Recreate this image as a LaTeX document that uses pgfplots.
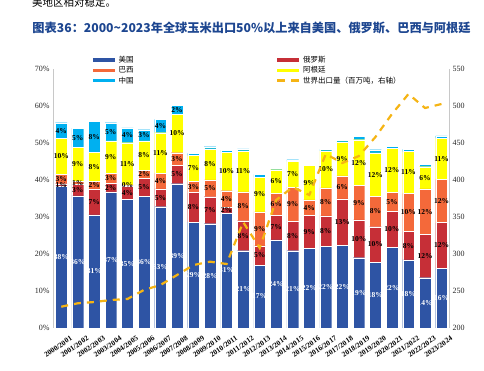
\documentclass[border=0pt]{standalone}
\usepackage{pgfplots}
\pgfplotsset{compat=1.18}
\usepackage{pgfplotstable}
\usepackage{fontspec}
\setmainfont{Liberation Serif}
\newfontfamily\cjk{Noto Sans CJK SC}
\definecolor{usblue}{HTML}{2E54A4}
\definecolor{rured}{HTML}{C62F37}
\definecolor{brorange}{HTML}{F4693A}
\definecolor{aryellow}{HTML}{FFFF00}
\definecolor{cncyan}{HTML}{00B0F0}
\definecolor{wline}{HTML}{F5B414}
\definecolor{titleblue}{HTML}{1D4690}
\definecolor{axgray}{HTML}{C8C8C8}

\pgfplotstableread{
i us ru br ar cn
0 38.4 0.6 2.6 9.6 4.3
1 35.7 3.1 0.8 9.2 5.2
2 30.6 7.0 2.1 7.8 8.3
3 36.8 2.3 2.7 8.8 4.9
4 34.8 3.6 0.3 11.4 4.0
5 35.6 4.8 2.3 7.9 3.0
6 32.8 4.8 4.2 11.0 3.6
7 39.0 5.0 3.4 10.4 2.4
8 28.6 8.0 3.0 7.0 0.6
9 28.2 7.3 4.5 8.4 0.6
10 31.1 1.6 4.4 10.4 0.6
11 20.9 8.1 7.8 11.1 0.5
12 17.0 5.2 9.2 9.4 0.7
13 23.8 6.7 5.9 6.4 0.4
14 20.9 8.0 9.2 6.9 0.5
15 21.6 8.9 4.1 9.3 0.4
16 22.0 8.3 7.6 10.0 0.4
17 22.3 12.6 6.2 9.2 0.5
18 19.0 10.2 9.3 12.4 0.9
19 17.8 9.6 8.2 11.7 0.9
20 21.8 9.8 5.0 12.0 0.5
21 18.4 7.7 10.3 11.3 0.6
22 13.6 11.7 12.3 6.0 0.7
23 16.1 12.4 11.7 11.1 0.6
}\shares
\pgfplotstablecreatecol[create col/expr={\thisrow{us}/2}]{cus}{\shares}
\pgfplotstablecreatecol[create col/expr={\thisrow{us}+\thisrow{ru}/2}]{cru}{\shares}
\pgfplotstablecreatecol[create col/expr={\thisrow{us}+\thisrow{ru}+\thisrow{br}/2}]{cbr}{\shares}
\pgfplotstablecreatecol[create col/expr={\thisrow{us}+\thisrow{ru}+\thisrow{br}+\thisrow{ar}/2}]{car}{\shares}
\pgfplotstablecreatecol[create col/expr={\thisrow{us}+\thisrow{ru}+\thisrow{br}+\thisrow{ar}+\thisrow{cn}/2}]{ccn}{\shares}

\pgfplotstableread{
i w
0 228.8
1 233.4
2 235.1
3 237.8
4 239.2
5 251.4
6 258.1
7 271.6
8 285.1
9 289.6
10 286.5
11 343.2
12 308.1
13 373.0
14 390.5
15 379.7
16 435.1
17 423.0
18 432.4
19 458.1
20 489.2
21 516.2
22 497.3
23 502.7
}\world

\pgfplotsset{
  /pgf/number format/assume math mode=true,
  lineleg/.style={legend image code/.code={\draw[##1] (0pt,0pt) -- (22pt,0pt);}},
  samebox/.style={at={(53pt,43pt)}, anchor=south west,
    scale only axis, width=396pt, height=259pt,
    xmin=-0.5, xmax=23.45, enlargelimits=false},
  lab/.style={only marks, mark=*, mark size=0.01pt, mark options={draw=none, fill=none},
    nodes near coords={\pgfmathprintnumber[fixed,precision=0]{\pgfplotspointmeta}\%},
    every node near coord/.append style={anchor=center, font=\bfseries\fontsize{7.5}{8}\selectfont, inner sep=0pt, text=black}},
}

\begin{document}
\begin{tikzpicture}
\begin{axis}[
  samebox,
  ybar stacked, bar width=11.7pt,
  ymin=0, ymax=70, ytick={0,10,...,70},
  yticklabel={\pgfmathprintnumber{\tick}\%},
  xtick={0,...,23},
  xticklabels={2000/2001,2001/2002,2002/2003,2003/2004,2004/2005,2005/2006,2006/2007,2007/2008,2008/2009,2009/2010,2010/2011,2011/2012,2012/2013,2013/2014,2014/2015,2015/2016,2016/2017,2017/2018,2018/2019,2019/2020,2020/2021,2021/2022,2022/2023,2023/2024},
  x tick label style={rotate=34, anchor=north east, font=\bfseries\fontsize{7.4}{8}\selectfont, inner sep=0pt, xshift=3pt, yshift=-11pt},
  y tick label style={font=\fontsize{8}{9}\selectfont, text=black!85},
  axis y line*=left, axis x line*=bottom,
  x axis line style={draw=none}, y axis line style={draw=axgray},
  major tick length=0pt,
  legend style={draw=none, fill=none, at={(0.088,1.066)}, anchor=north west,
    font=\cjk\fontsize{7.5}{9}\selectfont, row sep=-1.5pt,
    /tikz/every even column/.append style={column sep=140pt}},
  legend columns=2, legend cell align=left,
]
\addlegendimage{lineleg, draw=usblue, line width=3.5pt}\addlegendentry{美国}
\addlegendimage{lineleg, draw=rured, line width=3.5pt}\addlegendentry{俄罗斯}
\addlegendimage{lineleg, draw=brorange, line width=3.5pt}\addlegendentry{巴西}
\addlegendimage{lineleg, draw=aryellow, line width=3.5pt}\addlegendentry{阿根廷}
\addlegendimage{lineleg, draw=cncyan, line width=3.5pt}\addlegendentry{中国}
\addlegendimage{lineleg, draw=wline, line width=2.5pt, dash pattern=on 8pt off 6pt}\addlegendentry{世界出口量（百万吨，右轴）}

\addplot[fill=usblue, draw=white, line width=0.2pt] table[x=i,y=us]{\shares};
\addplot[fill=rured, draw=white, line width=0.2pt] table[x=i,y=ru]{\shares};
\addplot[fill=brorange, draw=white, line width=0.2pt] table[x=i,y=br]{\shares};
\addplot[fill=aryellow, draw=white, line width=0.2pt] table[x=i,y=ar]{\shares};
\addplot[fill=cncyan, draw=white, line width=0.2pt] table[x=i,y=cn]{\shares};
\end{axis}

\begin{axis}[samebox, ymin=0, ymax=70, hide axis, point meta=explicit]
\addplot[lab, every node near coord/.append style={text=white}] table[x=i,y=cus,meta=us]{\shares};
\addplot[lab] table[x=i,y=cru,meta=ru]{\shares};
\addplot[lab] table[x=i,y=cbr,meta=br]{\shares};
\addplot[lab] table[x=i,y=car,meta=ar]{\shares};
\addplot[lab, skip coords between index={8}{24}] table[x=i,y=ccn,meta=cn]{\shares};
\end{axis}

\begin{axis}[
  samebox,
  ymin=200, ymax=550, ytick={200,250,...,550},
  axis x line=none, axis y line*=right, y axis line style={draw=axgray},
  major tick length=0pt,
  y tick label style={font=\fontsize{8}{9}\selectfont, text=black!85},
]
\addplot[wline, line width=2.2pt, dash pattern=on 7pt off 6pt] table[x=i,y=w]{\world};
\end{axis}

\node[font=\cjk\bfseries\fontsize{12.2}{14}\selectfont, text=titleblue] at (251.5pt,343pt) {图表36：2000\textasciitilde 2023年全球玉米出口50\%以上来自美国、俄罗斯、巴西与阿根廷};
\node[font=\cjk\fontsize{10.5}{12}\selectfont, anchor=base west, inner sep=0pt] at (32pt,364.5pt) {美地区相对稳定。};

\pgfresetboundingbox
\path[use as bounding box] (0,0) rectangle (484pt,371pt);
\end{tikzpicture}
\end{document}
